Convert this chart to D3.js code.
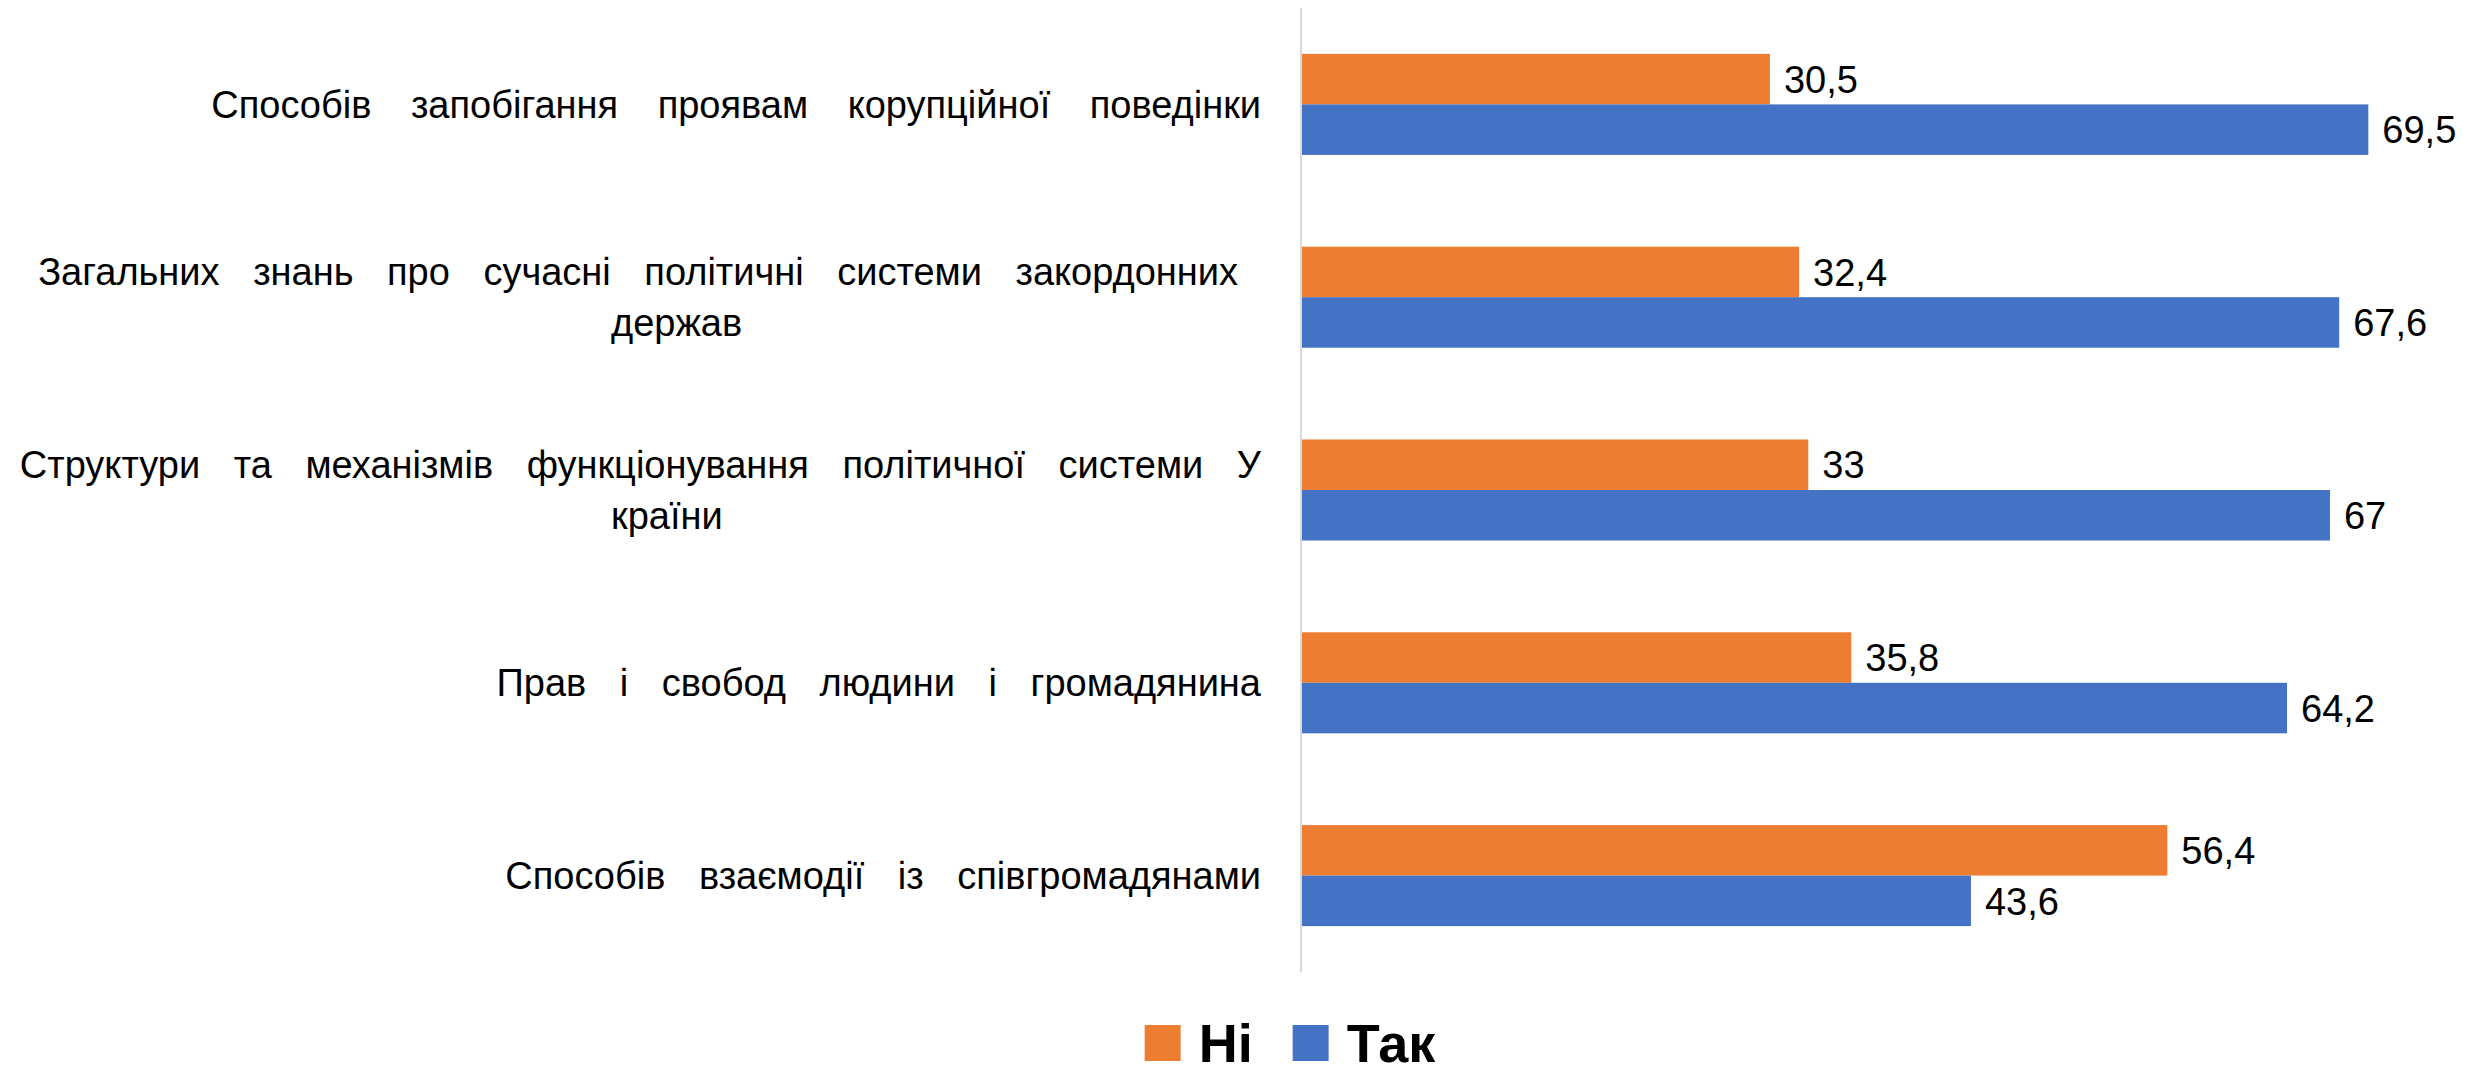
<!DOCTYPE html>
<html>
<head>
<meta charset="utf-8">
<script src="https://cdn.jsdelivr.net/npm/d3@7/dist/d3.min.js"></script>
<style>
  html, body { margin: 0; padding: 0; background: #fff; }
  svg { display: block; }
</style>
</head>
<body>
<svg id="chart" width="2488" height="1074"></svg>
<script>
// ---- data ----
const categories = [
  ["Способів запобігання проявам корупційної поведінки"],
  ["Загальних знань про сучасні політичні системи закордонних", "держав"],
  ["Структури та механізмів функціонування політичної системи У", "країни"],
  ["Прав і свобод людини і громадянина"],
  ["Способів взаємодії із співгромадянами"]
];
const seriesNames = ["Ні", "Так"];
const valuesNi  = [30.5, 32.4, 33, 35.8, 56.4];
const valuesTak = [69.5, 67.6, 67, 64.2, 43.6];
const colors = ["#ED7D31", "#4472C4"];

// ---- layout ----
const plot = { left: 1302, right: 2376, top: 8, bottom: 972 };
const labelRight = 1261;
const font = "'Liberation Sans', Arial, sans-serif";

const svg = d3.select("#chart");

const x = d3.scaleLinear().domain([0, 70]).range([plot.left, plot.right]);
const y = d3.scaleBand().domain(d3.range(categories.length))
  .range([plot.top, plot.bottom]).paddingInner(0.476).paddingOuter(0.238);
const ySub = d3.scaleBand().domain(seriesNames).range([0, y.bandwidth()]);

const series = [valuesNi, valuesTak];

// axis line
svg.append("line")
  .attr("x1", x(0) - 1).attr("x2", x(0) - 1)
  .attr("y1", plot.top).attr("y2", plot.bottom)
  .attr("stroke", "#D9D9D9").attr("stroke-width", 2);

// bars
const groups = svg.selectAll("g.cat").data(categories).join("g")
  .attr("class", "cat")
  .attr("transform", (d, i) => `translate(0,${y(i)})`);

seriesNames.forEach((name, s) => {
  groups.append("rect")
    .attr("x", x(0))
    .attr("y", ySub(name))
    .attr("width", (d, i) => x(series[s][i]) - x(0))
    .attr("height", ySub.bandwidth())
    .attr("fill", colors[s]);
  groups.append("text")
    .attr("x", (d, i) => x(series[s][i]) + 14)
    .attr("y", ySub(name) + ySub.bandwidth() / 2)
    .attr("dy", "0.36em")
    .attr("font-family", font)
    .attr("font-size", 38)
    .attr("fill", "#000")
    .text((d, i) => String(series[s][i]).replace(".", ","));
});

// category labels
const lineGap = 51;
categories.forEach((lines, i) => {
  const cy = y(i) + y.bandwidth() / 2;
  const n = lines.length;
  lines.forEach((ln, j) => {
    const ty = cy + (j - (n - 1) / 2) * lineGap;
    const t = svg.append("text")
      .attr("y", ty)
      .attr("dy", "0.36em")
      .attr("font-family", font)
      .attr("font-size", 38)
      .attr("fill", "#000")
      .attr("word-spacing", i === 0 ? 29 : 23)
      .text(ln);
    if (j === 0) {
      t.attr("x", n > 1 && i === 1 ? labelRight - 23 : labelRight).attr("text-anchor", "end");
    } else {
      t.attr("x", 611).attr("text-anchor", "start");
    }
  });
});

// legend
const legend = svg.append("g");
const legY = 1043, sq = 36;
let lx = 0;
seriesNames.forEach((name, s) => {
  const g = legend.append("g");
  g.append("rect").attr("x", lx).attr("y", legY - sq / 2).attr("width", sq).attr("height", sq).attr("fill", colors[s]);
  const t = g.append("text").attr("x", lx + sq + 18).attr("y", legY).attr("dy", "0.36em")
    .attr("font-family", font).attr("font-weight", "bold").attr("font-size", 54).attr("fill", "#000").text(name);
  lx += sq + 18 + t.node().getComputedTextLength() + 40;
});
const legW = lx - 40;
legend.attr("transform", `translate(${1290 - legW / 2},0)`);
</script>
</body>
</html>
